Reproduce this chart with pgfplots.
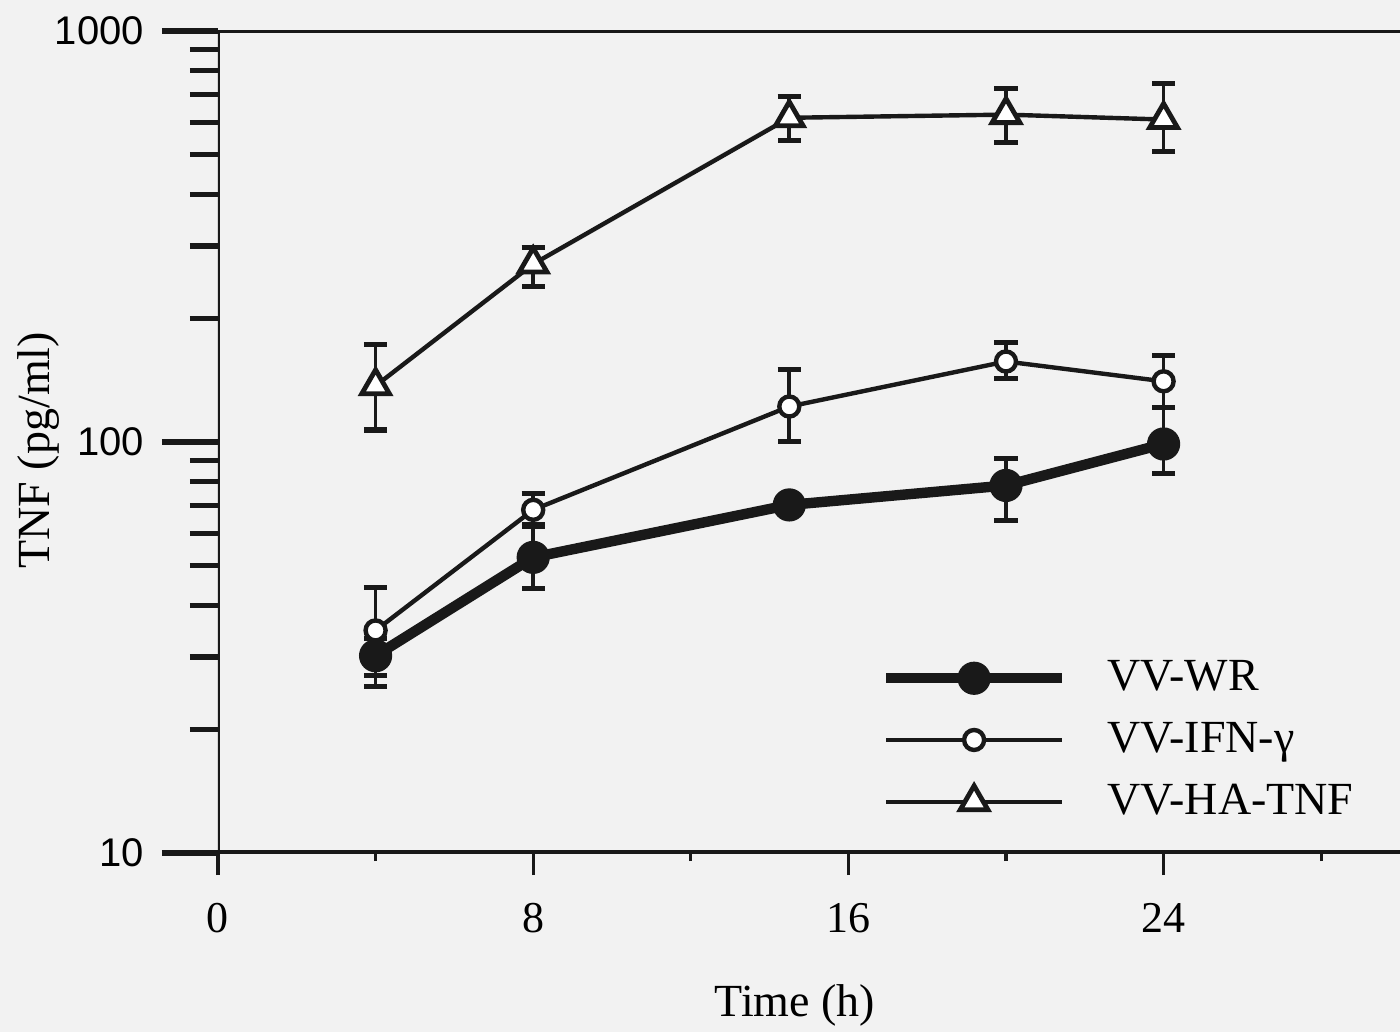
\documentclass[border=0pt]{standalone}
\usepackage{pgfplots}
\pgfplotsset{compat=1.18}
\usepackage{pgfplotstable}
\usepackage{fontspec}
\setmainfont{Liberation Serif}
\newfontfamily\tickfont{Liberation Sans}
\definecolor{bg}{RGB}{242,242,242}
\definecolor{ink}{RGB}{25,25,25}

\pgfplotstableread{
x y ep em
4 30.2 3 4.8
8 52.4 10 8.4
14.5 70.3 2 2
20 78.4 12.9 14.1
24 98.9 22.7 15.0
}\wr
\pgfplotstableread{
x y ep em
4 34.8 9.4 7.8
8 68.4 6.4 5.4
14.5 122 28 21.5
20 157 18 14
24 140.5 22 19
}\ifn
\pgfplotstableread{
x y ep em
4 137 36 30
8 271 27 32
14.5 615 77 73
20 626 98 91
24 609 136 100
}\hatnf

\begin{document}
\begin{tikzpicture}
\fill[bg] (-54.5pt,-44.75pt) rectangle (295.5pt,213.25pt);
\useasboundingbox (-54.5pt,-44.75pt) rectangle (295.5pt,213.25pt);
\begin{axis}[
  at={(0,0)}, anchor=south west,
  scale only axis, width=295.5pt, height=205.5pt,
  ymode=log, ymin=10, ymax=1000, xmin=0, xmax=30,
  axis line style={draw=none},
  tick align=outside,
  xtick pos=left, ytick pos=left,
  xtick={0,8,16,24}, xticklabels={\hbox{0},\hbox{8},\hbox{16},\hbox{24}},
  minor xtick={4,12,20,28},
  ytick={10,100,1000},
  yticklabels={\hbox{\tickfont 10},\hbox{\tickfont 100},\hbox{\tickfont 1000}},
  major tick length=14pt, minor tick length=7pt,
  every major y tick/.append style={line width=1.3pt, ink},
  every minor y tick/.append style={line width=1.3pt, ink},
  every major x tick/.append style={line width=0.8pt, ink, /pgfplots/major tick length=5.5pt},
  every minor x tick/.append style={line width=0.8pt, ink, /pgfplots/minor tick length=2pt},
  xticklabel style={font=\fontsize{11}{13}\selectfont, yshift=5pt},
  yticklabel style={font=\fontsize{10}{12}\selectfont, xshift=-1pt},
  xlabel={Time (h)}, ylabel={TNF (pg/ml)},
  label style={font=\fontsize{11.5}{13}\selectfont},
  xlabel style={at={(axis description cs:0.488,-0.185)}, anchor=center},
  ylabel style={at={(axis description cs:-0.152,0.49)}, anchor=center},
  legend style={draw=none, fill=none, at={(rel axis cs:0.55,0.255)}, anchor=north west,
    font=\fontsize{11.5}{13}\selectfont, row sep=2.4pt,
    /tikz/every even column/.append style={column sep=0pt}},
  legend cell align=left,
  legend image code/.code={\draw[#1, mark repeat=2, mark phase=2] plot coordinates {(0pt,0pt) (22pt,0pt) (44pt,0pt)};},
  error bars/y dir=both, error bars/y explicit,
  error bars/error mark options={rotate=90, mark size=2.9pt, line width=1.3pt, ink},
  error bars/error bar style={line width=0.9pt, ink},
]
\addplot[ink, line width=2.6pt, mark=*, mark size=3.9pt, mark options={solid, fill=ink, line width=0.5pt}]
  table[x=x, y=y, y error plus=ep, y error minus=em] {\wr};
\addlegendentry{\hspace{8pt}VV-WR}
\addplot[ink, line width=1.1pt, mark=*, mark size=2.5pt, mark options={solid, fill=white, line width=1.1pt}]
  table[x=x, y=y, y error plus=ep, y error minus=em] {\ifn};
\addlegendentry{\hspace{8pt}VV-IFN-γ}
\addplot[ink, line width=1.1pt, mark=triangle*, mark size=4pt, mark options={solid, fill=white, line width=1.2pt}]
  table[x=x, y=y, y error plus=ep, y error minus=em] {\hatnf};
\addlegendentry{\hspace{8pt}VV-HA-TNF}
\draw[ink, line width=0.8pt] (rel axis cs:0,0) -- (rel axis cs:0,1);
\draw[ink, line width=0.8pt] (rel axis cs:0,1) -- (rel axis cs:1,1);
\draw[ink, line width=1.4pt] (rel axis cs:0,0) -- (rel axis cs:1,0);
\end{axis}
\end{tikzpicture}
\end{document}
